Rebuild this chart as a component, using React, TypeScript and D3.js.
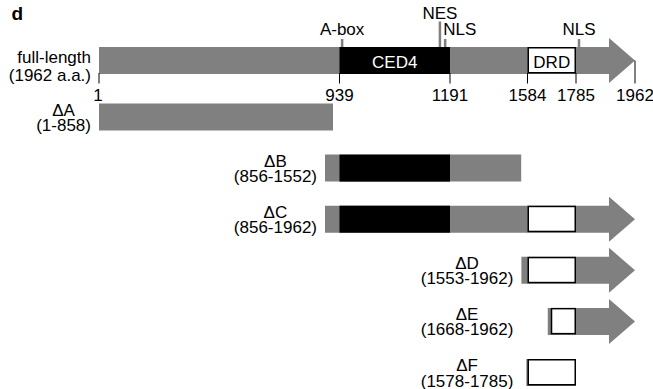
import React from "react";
import * as d3 from "d3";

// ---------- data ----------
const PANEL_LABEL = "d";
const FULL_LENGTH = 1962;
const FULL_LABEL = ["full-length", "(1962 a.a.)"];
const AXIS_TICKS = [1, 939, 1191, 1584, 1785, 1962];
// schematic (non-proportional) anchors of the drawing
const SCALE_ANCHORS = [1, 856, 858, 939, 1191, 1584, 1785, 1962];

const DOMAINS = [
  { name: "CED4", start: 939, end: 1191, kind: "black" },
  { name: "DRD", start: 1584, end: 1785, kind: "box" },
];

const FEATURES = [
  { name: "A-box", pos: 945, tall: false, anchor: "middle" },
  { name: "NES", pos: 1168, tall: true, anchor: "middle" },
  { name: "NLS", pos: 1180, tall: false, anchor: "start" },
  { name: "NLS", pos: 1794, tall: false, anchor: "middle" },
];

const CONSTRUCTS = [
  { name: "ΔA", start: 1, end: 858, labelAt: 1 },
  { name: "ΔB", start: 856, end: 1552, labelAt: 856 },
  { name: "ΔC", start: 856, end: 1962, labelAt: 856 },
  { name: "ΔD", start: 1553, end: 1962, labelAt: 1553 },
  { name: "ΔE", start: 1668, end: 1962, labelAt: 1553 },
  { name: "ΔF", start: 1578, end: 1785, labelAt: 1553 },
];

// ---------- layout ----------
const W = 653;
const H = 389;
const FONT = "'Liberation Sans', Arial, Helvetica, sans-serif";
const FS = 17;
const GREY = "#808080";
const BAR_H = 27;
const HEAD_HALF = 22.5;
const HEAD_LEN = 26;
const FULL_Y = 60.5;

const x = d3
  .scaleLinear()
  .domain(SCALE_ANCHORS)
  .range([99, 325, 333, 339.5, 450, 527.5, 576, 635]);

const y = d3
  .scalePoint<string>()
  .domain(CONSTRUCTS.map((c) => c.name))
  .range([117, 372.5]);

let ctx: CanvasRenderingContext2D | null = null;
function textWidth(t: string) {
  if (!ctx) {
    const c = document.createElement("canvas");
    ctx = c.getContext("2d");
  }
  if (!ctx) return t.length * FS * 0.55;
  ctx.font = `${FS}px ${FONT}`;
  return ctx.measureText(t).width;
}

function barPath(start: number, end: number, cy: number) {
  const x0 = x(start);
  const top = cy - BAR_H / 2;
  const bot = cy + BAR_H / 2;
  const p = d3.path();
  if (end === FULL_LENGTH) {
    const xt = x(end);
    const xh = xt - HEAD_LEN;
    p.moveTo(x0, top);
    p.lineTo(xh, top);
    p.lineTo(xh, cy - HEAD_HALF);
    p.lineTo(xt, cy);
    p.lineTo(xh, cy + HEAD_HALF);
    p.lineTo(xh, bot);
    p.lineTo(x0, bot);
    p.closePath();
    return p.toString();
  }
  p.rect(x0, top, x(end) - x0, BAR_H);
  return p.toString();
}

function Construct({ start, end, cy }: { start: number; end: number; cy: number }) {
  const top = cy - BAR_H / 2;
  return (
    <g>
      <path d={barPath(start, end, cy)} fill={GREY} />
      {DOMAINS.map((dm, i) => {
        const s = Math.max(start, dm.start);
        const e = Math.min(end, dm.end);
        if (e <= s) return null;
        let xs = x(s);
        if (start > dm.start) xs += 3;
        const xe = x(e);
        if (dm.kind === "black") {
          return <rect key={i} x={xs} y={top} width={xe - xs} height={BAR_H} fill="#000" />;
        }
        return (
          <rect
            key={i}
            x={xs + 0.75}
            y={top + 0.75}
            width={xe - xs - 1.5}
            height={BAR_H - 2}
            fill="#fff"
            stroke="#000"
            strokeWidth={1.5}
          />
        );
      })}
    </g>
  );
}

export default function App() {
  const fullTop = FULL_Y - BAR_H / 2;
  const fullBot = FULL_Y + BAR_H / 2;
  return (
    <svg
      width={W}
      height={H}
      viewBox={`0 0 ${W} ${H}`}
      style={{ position: "absolute", left: 0, top: 0, background: "#fff" }}
      fontFamily={FONT}
      fontSize={FS}
    >
      <text x={11.5} y={19.5} fontWeight="bold" fontSize={19}>
        {PANEL_LABEL}
      </text>

      {/* full-length label */}
      <text x={x(1) - 8} y={FULL_Y + 2.5} textAnchor="end">
        {FULL_LABEL[0]}
      </text>
      <text x={x(1) - 8} y={FULL_Y + 20.5} textAnchor="end">
        {FULL_LABEL[1]}
      </text>

      {/* feature markers */}
      {FEATURES.map((f, i) => {
        const fx = x(f.pos);
        const y0 = f.tall ? 21.5 : 39;
        return (
          <g key={i}>
            <line x1={fx} x2={fx} y1={y0} y2={fullTop + 1} stroke={GREY} strokeWidth={2.5} />
            <text
              x={f.anchor === "start" ? fx - 2 : fx}
              y={f.tall ? 19 : 34.5}
              textAnchor={f.anchor}
            >
              {f.name}
            </text>
          </g>
        );
      })}

      <Construct start={1} end={FULL_LENGTH} cy={FULL_Y} />

      {/* domain labels */}
      {DOMAINS.map((dm, i) => (
        <text
          key={i}
          x={(x(dm.start) + x(dm.end)) / 2}
          y={FULL_Y + 7}
          textAnchor="middle"
          fill={dm.kind === "black" ? "#fff" : "#000"}
        >
          {dm.name}
        </text>
      ))}

      {/* axis ticks */}
      {AXIS_TICKS.map((t, i) => {
        const tx = x(t);
        const y1 = t === FULL_LENGTH ? FULL_Y : fullBot - 1;
        return (
          <g key={i}>
            <line x1={tx} x2={tx} y1={y1} y2={83.5} stroke="#000" strokeWidth={1} />
            <text x={t === 1 ? tx - 1 : tx} y={100.5} textAnchor="middle">
              {t}
            </text>
          </g>
        );
      })}

      {/* constructs */}
      {CONSTRUCTS.map((c) => {
        const cy = y(c.name) as number;
        const l1 = c.name;
        const l2 = `(${c.start}-${c.end})`;
        const wMax = Math.max(textWidth(l1), textWidth(l2));
        const right = x(c.labelAt) - 8;
        const cx = right - wMax / 2;
        return (
          <g key={c.name}>
            <text x={cx} y={cy - 1.5} textAnchor="middle">
              {l1}
            </text>
            <text x={cx} y={cy + 14} textAnchor="middle">
              {l2}
            </text>
            <Construct start={c.start} end={c.end} cy={cy} />
          </g>
        );
      })}
    </svg>
  );
}
